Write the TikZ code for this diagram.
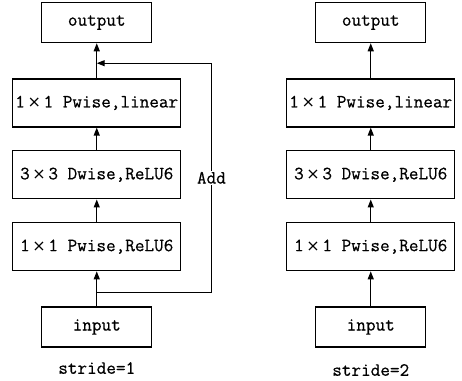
\documentclass[tikz,border=0pt]{standalone}
\usepackage{fontspec}
\usepackage{tikz}
\setmonofont[FakeBold=0.6]{Latin Modern Mono}
\newfontfamily\symfont{DejaVu Sans}
\usetikzlibrary{arrows.meta, positioning, calc}
\newcommand{\crossx}{\makebox[1em]{\symfont\fontsize{12}{14}\selectfont ×}}
\tikzstyle{layer} = [rectangle, draw, line width=1pt, minimum width=126pt, minimum height=36pt, inner sep=0pt, text centered]
\tikzstyle{endbox} = [rectangle, draw, line width=1pt, minimum width=82.5pt, minimum height=30pt, inner sep=0pt, text centered]
\tikzstyle{arrow} = [line width=0.9pt, -{Triangle[length=6pt, width=4.5pt]}]

\begin{document}
\begin{tikzpicture}[x=0.75pt, y=-0.75pt, node distance=26.25pt, every node/.style={font=\ttfamily\fontsize{14}{16}\selectfont}]
    \useasboundingbox (0,0) rectangle (462,381);

    % stride=1 block, with the shortcut
    \node[endbox] (in1) at (96.75,327) {input};
    \node[layer, above=of in1] (pw1) {1\crossx 1 Pwise,ReLU6};
    \node[layer, above=16.9pt of pw1] (dw1) {3\crossx 3 Dwise,ReLU6};
    \node[layer, above=16.9pt of dw1] (lin1) {1\crossx 1 Pwise,linear};
    \node[endbox, above=of lin1] (out1) {output};
    \node (cap1) at (96.75,368) {stride=1};

    \draw[arrow] (in1) -- (pw1);
    \draw[arrow] (pw1) -- (dw1);
    \draw[arrow] (dw1) -- (lin1);
    \draw[arrow] (lin1) -- (out1);

    \coordinate (skipin) at ($(in1.north)!0.4!(pw1.south)$);
    \coordinate (skipout) at ($(lin1.north)!0.43!(out1.south)$);
    \coordinate (addline) at ($(lin1.east)+(30,0)$);
    \draw[arrow] (skipin) -- (skipin -| addline) -- node[fill=white, inner sep=1pt] {Add} (skipout -| addline) -- (skipout);

    % stride=2 block
    \node[endbox] (in2) at (370.75,327) {input};
    \node[layer, above=of in2] (pw2) {1\crossx 1 Pwise,ReLU6};
    \node[layer, above=16.9pt of pw2] (dw2) {3\crossx 3 Dwise,ReLU6};
    \node[layer, above=16.9pt of dw2] (lin2) {1\crossx 1 Pwise,linear};
    \node[endbox, above=of lin2] (out2) {output};
    \node (cap2) at (370.75,370) {stride=2};

    \draw[arrow] (in2) -- (pw2);
    \draw[arrow] (pw2) -- (dw2);
    \draw[arrow] (dw2) -- (lin2);
    \draw[arrow] (lin2) -- (out2);
\end{tikzpicture}
\end{document}
